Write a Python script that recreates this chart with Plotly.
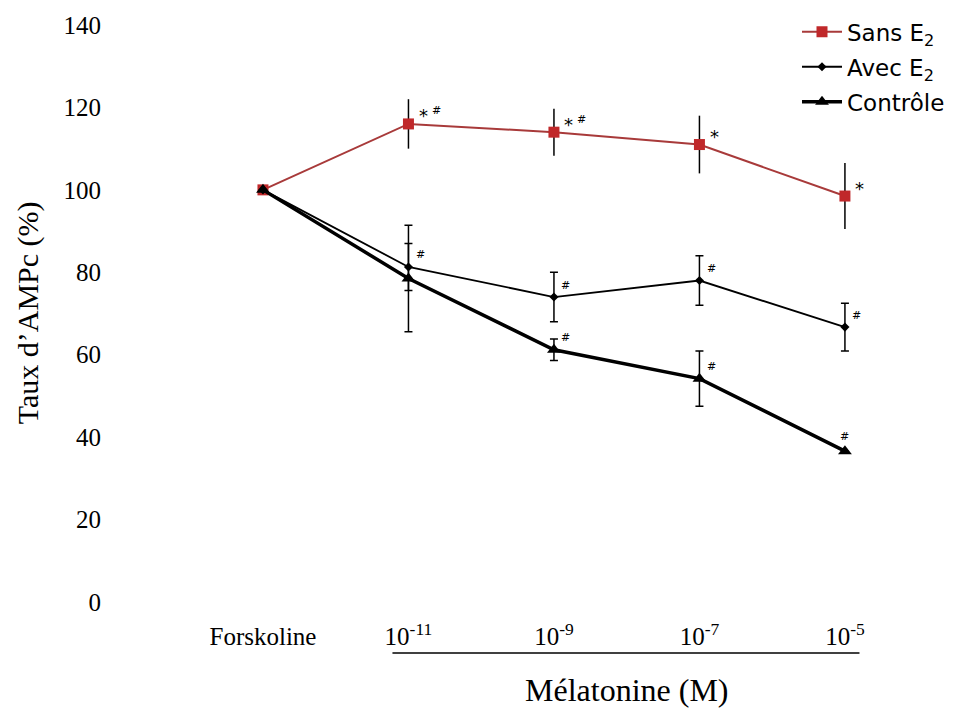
import plotly.graph_objects as go

categories = ["Forskoline", "10<sup>-11</sup>", "10<sup>-9</sup>", "10<sup>-7</sup>", "10<sup>-5</sup>"]
x_pos = [0, 1, 2, 3, 4]

sans_e2 = [100, 116, 114, 111, 98.5]
sans_e2_err = [0, 6, 5.7, 7, 8]
avec_e2 = [100, 81.3, 74, 78, 66.7]
avec_e2_err = [0, 5.7, 6, 6, 5.8]
controle = [100, 78.5, 61.2, 54.2, 36.6]
controle_err = [0, 12.9, 2.6, 6.7, 0]

# significance marks per point
sans_stars = ["", "*", "*", "*", "*"]
sans_hash = ["", "#", "#", "", ""]
avec_hash = ["", "#", "#", "#", "#"]
ctrl_hash = ["", "", "#", "#", "#"]

y_ticks = [0, 20, 40, 60, 80, 100, 120, 140]

SERIF = "Liberation Serif"
SANS = "DejaVu Sans"

fig = go.Figure()

fig.add_trace(go.Scatter(
    x=x_pos, y=sans_e2, name="Sans E<sub>2</sub>", mode="lines+markers", legendgroup="a",
    line=dict(color="#a83a3a", width=2),
    marker=dict(symbol="square", size=11, color="#c0282a"),
    error_y=dict(type="data", array=sans_e2_err, color="black", thickness=1.5, width=0),
    cliponaxis=False,
))
fig.add_trace(go.Scatter(
    x=x_pos, y=avec_e2, name="Avec E<sub>2</sub>", mode="lines+markers", legendgroup="b",
    line=dict(color="black", width=1.8),
    marker=dict(symbol="diamond", size=7, color="black"),
    error_y=dict(type="data", array=avec_e2_err, color="black", thickness=1.5, width=4),
    cliponaxis=False,
))
fig.add_trace(go.Scatter(
    x=x_pos, y=controle, name="Contrôle", mode="lines+markers", legendgroup="c",
    line=dict(color="black", width=3.5),
    marker=dict(symbol="triangle-up", size=12, color="black"),
    error_y=dict(type="data", array=controle_err, color="black", thickness=1.5, width=4),
    cliponaxis=False,
))

annotations = []
STAR_FONT = dict(family=SANS, size=18, color="black")
HASH_FONT = dict(family=SANS, size=11, color="black")

for i, (xv, yv) in enumerate(zip(x_pos, sans_e2)):
    if sans_stars[i]:
        annotations.append(dict(x=xv, y=yv, xref="x", yref="y", text=sans_stars[i],
                                showarrow=False, xshift=15, yshift=8, font=STAR_FONT))
    if sans_hash[i]:
        annotations.append(dict(x=xv, y=yv, xref="x", yref="y", text=sans_hash[i],
                                showarrow=False, xshift=28, yshift=13, font=HASH_FONT))
for i, (xv, yv) in enumerate(zip(x_pos, avec_e2)):
    if avec_hash[i]:
        annotations.append(dict(x=xv, y=yv, xref="x", yref="y", text=avec_hash[i],
                                showarrow=False, xshift=12, yshift=12, font=HASH_FONT))
for i, (xv, yv) in enumerate(zip(x_pos, controle)):
    if ctrl_hash[i]:
        last = i == len(controle) - 1
        annotations.append(dict(x=xv, y=yv, xref="x", yref="y", text=ctrl_hash[i],
                                showarrow=False, xshift=0 if last else 12,
                                yshift=15 if last else 12, font=HASH_FONT))

annotations.append(dict(
    x=-0.189, y=0.4865, xref="paper", yref="paper", text="Taux d’AMPc (%)",
    xanchor="center", yanchor="middle",
    textangle=-90, showarrow=False, font=dict(family=SERIF, size=30, color="black"),
))
annotations.append(dict(
    x=2.50, y=-0.148, xref="x", yref="paper", text="Mélatonine (M)",
    xanchor="center", yanchor="middle",
    showarrow=False, font=dict(family=SERIF, size=32, color="black"),
))
fig.update_layout(annotations=annotations)

fig.add_shape(type="line", xref="x", yref="paper", x0=0.89, x1=4.1, y0=-0.0859, y1=-0.0859,
              line=dict(color="black", width=1.6))

fig.update_layout(
    width=958, height=710,
    margin=dict(l=162, r=46, t=0, b=116),
    paper_bgcolor="white", plot_bgcolor="white",
    showlegend=True,
    legend=dict(x=0.836, y=0.996, xanchor="left", yanchor="top",
                traceorder="grouped", tracegroupgap=2, itemwidth=40,
                font=dict(family=SANS, size=23, color="black"),
                bgcolor="rgba(0,0,0,0)"),
    xaxis=dict(range=[-0.639, 4.516], tickvals=x_pos, ticktext=categories,
               showgrid=False, zeroline=False, showline=False, ticks="",
               ticklabelstandoff=17,
               tickfont=dict(family=SERIF, size=25, color="black")),
    yaxis=dict(range=[0, 144.13], tickvals=y_ticks, showgrid=False, zeroline=False,
               showline=False, ticks="", ticklabelstandoff=68,
               tickfont=dict(family=SERIF, size=25, color="black")),
)

fig.write_html("out.html")
